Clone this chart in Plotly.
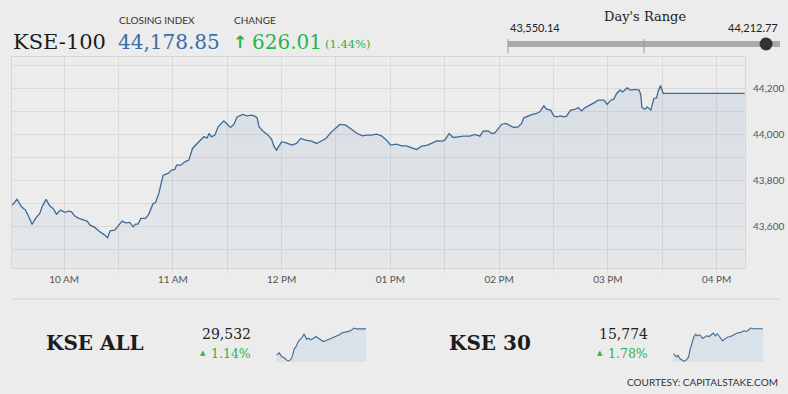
import pandas as pd
import plotly.graph_objects as go

DATE = "2019-12-30"

# ---------------- KSE-100 intraday ----------------
kse100_times = [
    "09:31:19", "09:34:04", "09:36:30", "09:38:42", "09:40:31", "09:42:21", "09:44:13", "09:46:36",
    "09:47:52", "09:50:04", "09:52:07", "09:53:56", "09:55:48", "09:58:01", "10:00:23", "10:02:36",
    "10:04:05", "10:05:54", "10:08:07", "10:10:29", "10:12:41", "10:14:21", "10:16:56", "10:19:42",
    "10:22:28", "10:23:57", "10:25:23", "10:27:59", "10:29:48", "10:32:00", "10:33:53", "10:36:15",
    "10:38:05", "10:39:24", "10:40:50", "10:42:19", "10:44:55", "10:46:44", "10:49:07", "10:50:26",
    "10:52:16", "10:53:22", "10:54:38", "10:57:23", "10:59:16", "11:01:05", "11:02:01", "11:04:23",
    "11:06:36", "11:08:49", "11:10:51", "11:13:56", "11:17:05", "11:18:55", "11:20:01", "11:21:20",
    "11:23:10", "11:24:59", "11:28:07", "11:29:37", "11:31:49", "11:33:38", "11:35:28", "11:38:26",
    "11:40:59", "11:43:25", "11:45:14", "11:46:30", "11:47:36", "11:49:49", "11:52:34", "11:54:26",
    "11:55:43", "11:57:12", "11:59:58", "12:02:43", "12:05:29", "12:08:14", "12:10:27", "12:13:22",
    "12:16:31", "12:19:17", "12:22:02", "12:24:25", "12:27:33", "12:30:19", "12:32:08", "12:35:26",
    "12:38:35", "12:41:41", "12:44:40", "12:46:52", "12:49:37", "12:52:23", "12:55:08", "12:57:54",
    "13:00:07", "13:03:25", "13:06:11", "13:08:56", "13:11:42", "13:14:28", "13:17:13", "13:19:58",
    "13:22:44", "13:25:29", "13:28:15", "13:30:04", "13:32:26", "13:34:39", "13:37:25", "13:40:10",
    "13:43:52", "13:46:38", "13:49:23", "13:51:13", "13:53:58", "13:55:50", "13:57:40", "13:59:29",
    "14:01:22", "14:03:44", "14:05:56", "14:08:09", "14:10:31", "14:12:23", "14:13:40", "14:16:02",
    "14:18:28", "14:20:40", "14:22:29", "14:24:42", "14:26:11", "14:28:24", "14:30:13", "14:32:02",
    "14:33:55", "14:35:44", "14:37:14", "14:39:26", "14:41:49", "14:43:38", "14:45:30", "14:47:19",
    "14:49:42", "14:52:17", "14:54:40", "14:57:49", "14:59:38", "15:01:31", "15:03:20", "15:04:49",
    "15:06:38", "15:08:08", "15:10:40", "15:12:32", "15:14:55", "15:17:17", "15:18:13", "15:18:47",
    "15:20:26", "15:21:42", "15:23:44", "15:25:24", "15:26:53", "15:27:46", "15:29:05", "15:30:32",
    "16:15:30",
]
kse100_values = [
    43692.6, 43717.4, 43685.2, 43670.9, 43641.7, 43608.7, 43634.8, 43656.5,
    43685.2, 43717.4, 43688.2, 43678.2, 43653.5, 43670.9, 43660.9, 43666.5,
    43663.5, 43644.8, 43634.8, 43630.4, 43623.0, 43605.6, 43595.6, 43576.5,
    43562.2, 43550.14, 43580.9, 43583.9, 43601.3, 43623.0, 43615.6, 43617.4,
    43598.2, 43609.9, 43609.9, 43634.8, 43634.8, 43653.5, 43700.0, 43702.6,
    43743.5, 43779.6, 43823.0, 43830.4, 43844.8, 43847.8, 43866.5, 43866.5,
    43880.9, 43888.3, 43939.1, 43965.2, 43989.6, 43985.2, 44004.3, 43989.6,
    43997.0, 44033.0, 44059.1, 44047.8, 44030.4, 44043.5, 44076.5, 44087.0,
    44080.9, 44083.9, 44079.6, 44072.2, 44033.0, 44014.3, 43997.0, 43979.6,
    43950.4, 43931.7, 43967.8, 43963.5, 43953.5, 43960.9, 43982.6, 43975.2,
    43970.9, 43960.9, 43970.9, 43982.6, 44011.3, 44033.0, 44043.5, 44040.4,
    44023.0, 44004.3, 43993.9, 43997.0, 43997.0, 44001.3, 43993.9, 43975.2,
    43953.5, 43957.8, 43950.4, 43950.4, 43941.7, 43934.8, 43949.1, 43952.2,
    43960.9, 43972.2, 43970.9, 43975.2, 44004.3, 43987.0, 43989.6, 43992.6,
    43992.6, 44000.0, 43992.6, 44014.3, 44015.7, 44004.3, 44007.0, 44026.1,
    44043.5, 44047.8, 44040.4, 44030.4, 44033.0, 44047.8, 44072.2, 44080.9,
    44087.0, 44091.3, 44098.3, 44124.4, 44110.0, 44105.7, 44080.9, 44076.5,
    44080.9, 44076.5, 44079.6, 44105.7, 44108.7, 44117.4, 44102.6, 44115.7,
    44124.4, 44137.4, 44149.1, 44149.1, 44130.4, 44149.1, 44153.5, 44178.3,
    44192.6, 44185.2, 44202.6, 44192.6, 44195.7, 44192.6, 44170.9, 44117.4,
    44108.7, 44120.0, 44105.7, 44156.5, 44159.1, 44188.3, 44212.77, 44178.85,
    44178.85,
]

# ---------------- KSE ALL sparkline ----------------
kseall_times = [
    "09:34", "09:46", "09:56", "10:07", "10:16", "10:26", "10:37", "10:46", "10:52", "11:01",
    "11:11", "11:22", "11:31", "11:37", "11:43", "11:49", "11:58", "12:07", "12:19", "12:31",
    "12:41", "12:52", "13:04", "13:16", "13:31", "13:46", "14:01", "14:16", "14:26", "14:41",
    "14:56", "15:07", "15:16", "15:22", "15:31", "16:15",
]
kseall_values = [
    29256, 29281, 29238, 29231, 29209, 29195, 29209, 29256, 29317, 29345,
    29399, 29424, 29452, 29477, 29452, 29424, 29434, 29417, 29434, 29452,
    29434, 29417, 29399, 29409, 29424, 29434, 29452, 29470, 29488, 29495,
    29506, 29516, 29531, 29541, 29532, 29532,
]

# ---------------- KSE 30 sparkline ----------------
kse30_times = [
    "09:32", "09:40", "09:47", "09:53", "10:02", "10:13", "10:23", "10:32", "10:41", "10:47",
    "10:53", "10:59", "11:05", "11:13", "11:20", "11:32", "11:43", "11:53", "12:02", "12:13",
    "12:23", "12:32", "12:41", "12:50", "13:02", "13:13", "13:23", "13:35", "13:50", "14:05",
    "14:20", "14:35", "14:50", "15:02", "15:13", "15:20", "15:32", "15:42", "16:15",
]
kse30_values = [
    15558, 15543, 15528, 15543, 15514, 15499, 15490, 15505, 15528, 15588,
    15632, 15662, 15706, 15727, 15712, 15721, 15691, 15700, 15712, 15706,
    15721, 15736, 15712, 15730, 15700, 15670, 15682, 15700, 15706, 15721,
    15736, 15742, 15756, 15750, 15765, 15780, 15774, 15774, 15774,
]

# ---------------- Summary figures ----------------
CLOSE = 44178.85
CHANGE = 626.01
CHANGE_PCT = 1.44
DAY_LOW = 43550.14
DAY_HIGH = 44212.77
KSEALL_CLOSE = 29532
KSEALL_PCT = 1.14
KSE30_CLOSE = 15774
KSE30_PCT = 1.78

W, H = 788, 394
BG = "#ececec"
LINE = "#3d6a96"
GREEN = "#2bb34b"
GRID = "#dadada"


def px(x):
    return x / W


def py(y):
    return 1 - y / H


def ts(times):
    return pd.to_datetime([f"{DATE} {t}" for t in times])


fig = go.Figure()

fig.add_trace(go.Scatter(
    x=ts(kse100_times), y=kse100_values, mode="lines",
    line=dict(color=LINE, width=1.3),
    fill="tozeroy",
    fillgradient=dict(type="vertical", start=43419, stop=44212,
                      colorscale=[[0, "rgba(70,120,175,0.04)"], [1, "rgba(70,120,175,0.12)"]]),
    hoverinfo="skip", showlegend=False,
    xaxis="x", yaxis="y",
))

fig.add_trace(go.Scatter(
    x=ts(kseall_times), y=kseall_values, mode="lines",
    line=dict(color=LINE, width=1.1),
    fill="tozeroy", fillcolor="#d9e1e9",
    hoverinfo="skip", showlegend=False,
    xaxis="x2", yaxis="y2",
))

fig.add_trace(go.Scatter(
    x=ts(kse30_times), y=kse30_values, mode="lines",
    line=dict(color=LINE, width=1.1),
    fill="tozeroy", fillcolor="#d9e1e9",
    hoverinfo="skip", showlegend=False,
    xaxis="x3", yaxis="y3",
))

x_range = [f"{DATE} 09:31:15", f"{DATE} 16:15:40"]
spark_range = [f"{DATE} 09:31:00", f"{DATE} 16:15:00"]

ann = []


def text(x, y, s, size, color, family, xanchor="left", yanchor="middle"):
    ann.append(dict(x=px(x), y=py(y), xref="paper", yref="paper", text=s, showarrow=False,
                    xanchor=xanchor, yanchor=yanchor,
                    font=dict(size=size, color=color, family=family)))


SERIF = "DejaVu Serif"
SANS = "Lato"

text(11, 42, "KSE-100", 21, "#1c1c1c", SERIF)
text(117, 20, "CLOSING INDEX", 10, "#333333", SANS)
text(116, 42, f"{CLOSE:,.2f}", 20, "#3b6ea8", SERIF)
text(232, 20, "CHANGE", 10, "#333333", SANS)
text(231, 42, "<b>↑</b>", 17, GREEN, "DejaVu Sans")
text(250, 42, f"{CHANGE:,.2f}", 20, GREEN, SERIF)
text(323, 44, f"({CHANGE_PCT:.2f}%)", 11.5, GREEN, SERIF)

# Day's range
BAR_L, BAR_R, BAR_Y = 508, 780, 44
text(645, 16, "Day's Range", 13, "#222222", SERIF, xanchor="center")
text(BAR_L, 27, f"{DAY_LOW:,.2f}", 11, "#222222", SANS)
text(BAR_R, 27, f"{DAY_HIGH:,.2f}", 11, "#222222", SANS, xanchor="right")

# Bottom panels
text(44, 343, "<b>KSE ALL</b>", 20, "#1c1c1c", SERIF)
text(253, 334, f"{KSEALL_CLOSE:,}", 14, "#222222", SERIF, xanchor="right")
text(203, 353, "▲", 7, GREEN, "DejaVu Sans", xanchor="center")
text(253, 353, f"{KSEALL_PCT:.2f}%", 12.5, GREEN, SERIF, xanchor="right")

text(447, 343, "<b>KSE 30</b>", 20, "#1c1c1c", SERIF)
text(650, 334, f"{KSE30_CLOSE:,}", 14, "#222222", SERIF, xanchor="right")
text(600, 353, "▲", 7, GREEN, "DejaVu Sans", xanchor="center")
text(650, 353, f"{KSE30_PCT:.2f}%", 12.5, GREEN, SERIF, xanchor="right")

text(780, 382, "COURTESY: CAPITALSTAKE.COM", 10, "#333333", SANS, xanchor="right")

shapes = [
    dict(type="line", xref="paper", yref="paper", x0=px(BAR_L), x1=px(BAR_R), y0=py(BAR_Y), y1=py(BAR_Y),
         line=dict(color="#aaaaaa", width=6)),
    dict(type="line", xref="paper", yref="paper", x0=px(BAR_L), x1=px(BAR_L), y0=py(39), y1=py(53),
         line=dict(color="#999999", width=1)),
    dict(type="line", xref="paper", yref="paper", x0=px((BAR_L + BAR_R) / 2), x1=px((BAR_L + BAR_R) / 2),
         y0=py(39), y1=py(53), line=dict(color="#999999", width=1)),
    dict(type="line", xref="paper", yref="paper", x0=px(12), x1=px(780), y0=py(299), y1=py(299),
         line=dict(color="#d3d3d3", width=1)),
]
pos = BAR_L + (CLOSE - DAY_LOW) / (DAY_HIGH - DAY_LOW) * (BAR_R - BAR_L)
r = 6.5
shapes.append(dict(type="circle", xref="paper", yref="paper",
                   x0=px(pos - r), x1=px(pos + r), y0=py(BAR_Y + r), y1=py(BAR_Y - r),
                   fillcolor="#333333", line=dict(color="#333333", width=0)))

fig.update_layout(
    width=W, height=H,
    margin=dict(l=0, r=0, t=0, b=0),
    paper_bgcolor=BG, plot_bgcolor=BG,
    showlegend=False,
    annotations=ann,
    shapes=shapes,
    xaxis=dict(
        domain=[px(12), px(745)], range=x_range, type="date",
        tick0=f"{DATE} 10:00", dtick=3600000, tickformat="%I %p",
        showgrid=True, gridcolor=GRID, gridwidth=1,
        ticks="outside", ticklen=4, tickcolor=GRID,
        minor=dict(dtick=1800000, tick0=f"{DATE} 10:00", showgrid=True, gridcolor=GRID,
                   ticks="outside", ticklen=4, tickcolor=GRID),
        showline=True, linecolor="#d6d6d6", mirror=True,
        ticklabelstandoff=-2,
        tickfont=dict(family=SANS, size=10, color="#555555"),
        zeroline=False, fixedrange=True,
    ),
    yaxis=dict(
        domain=[py(268), py(57)], range=[43419, 44337], side="right",
        tick0=43600, dtick=200, tickformat=",d",
        showgrid=True, gridcolor=GRID,
        minor=dict(dtick=100, tick0=43600, showgrid=True, gridcolor=GRID),
        showline=True, linecolor="#d6d6d6", mirror=True,
        ticks="", ticklabelstandoff=5,
        tickfont=dict(family=SANS, size=10, color="#555555"),
        zeroline=False, fixedrange=True,
    ),
    xaxis2=dict(domain=[px(276), px(366)], range=spark_range, type="date", visible=False,
                anchor="y2", fixedrange=True),
    yaxis2=dict(domain=[py(362), py(327)], range=[29184, 29552], visible=False,
                anchor="x2", fixedrange=True),
    xaxis3=dict(domain=[px(673), px(763)], range=spark_range, type="date", visible=False,
                anchor="y3", fixedrange=True),
    yaxis3=dict(domain=[py(362), py(327)], range=[15484, 15789], visible=False,
                anchor="x3", fixedrange=True),
)

fig.write_html(
    "out.html",
    config={"displayModeBar": False},
    post_script="document.body.style.margin='0';document.body.style.padding='0';",
)
